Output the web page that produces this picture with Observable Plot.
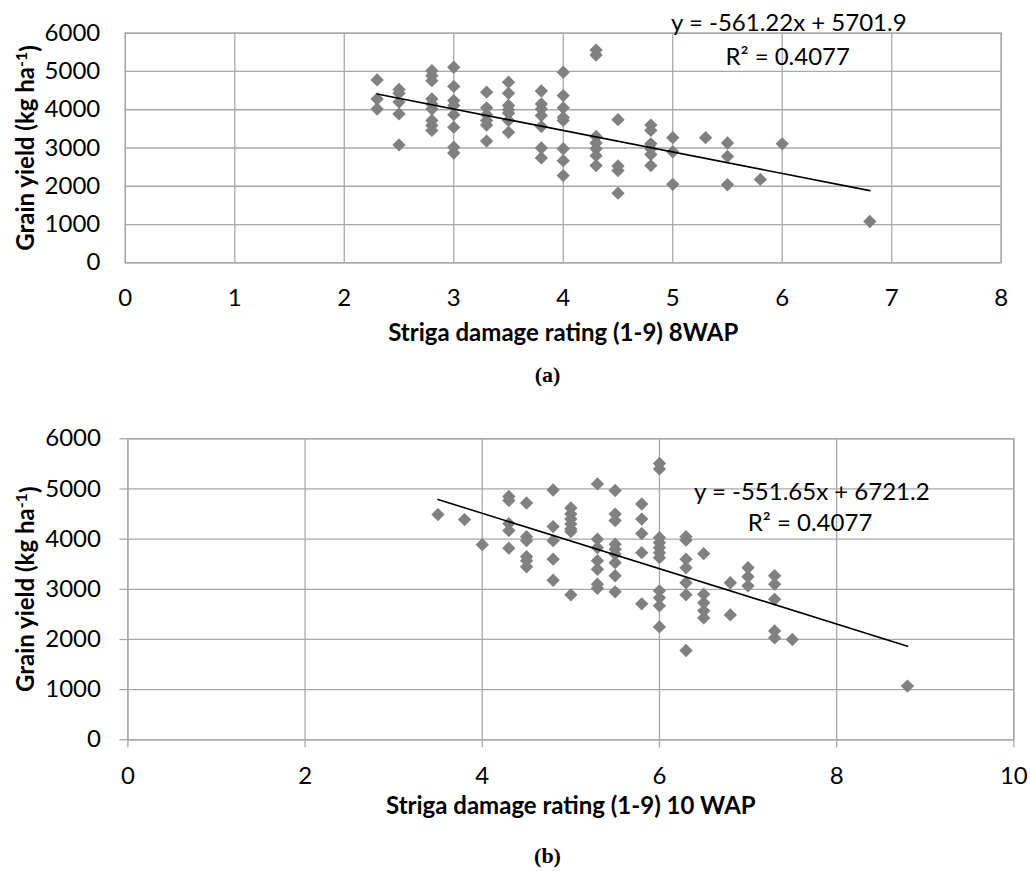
<!DOCTYPE html>
<html><head><meta charset="utf-8">
<script src="https://cdn.jsdelivr.net/npm/d3@7"></script>
<script src="https://cdn.jsdelivr.net/npm/@observablehq/plot@0.6"></script>
<style>
body{margin:0;background:#fff;}
#wrap{position:relative;width:1030px;height:871px;background:#fff;overflow:hidden}
#wrap svg{position:absolute;left:0}
</style></head><body><div id="wrap"></div>
<script>
// ---------- Chart (a): rating 8 WAP vs grain yield ----------
const ratingsA = [2.3, 2.5, 2.8, 3.0, 3.3, 3.5, 3.8, 4.0, 4.3, 4.5, 4.8, 5.0, 5.3, 5.5, 5.8, 6.0, 6.8];
const yieldsA = [
  [4780, 4280, 4020],
  [4530, 4430, 4200, 3890, 3080],
  [5020, 4890, 4760, 4280, 4150, 4020, 3720, 3590, 3460],
  [5110, 4610, 4240, 4110, 3870, 3540, 3020, 2870],
  [4460, 4050, 3870, 3720, 3600, 3180],
  [4720, 4430, 4110, 4000, 3910, 3720, 3410],
  [4490, 4150, 4020, 3850, 3560, 3000, 2740],
  [4980, 4370, 4050, 3800, 3720, 2980, 2670, 2280],
  [5560, 5430, 3300, 3130, 2980, 2800, 2540],
  [3740, 2530, 2410, 1820],
  [3600, 3460, 3110, 2980, 2830, 2540],
  [3270, 2900, 2050],
  [3270],
  [3130, 2780, 2040],
  [2180],
  [3110],
  [1080]
];
const slopeA = -561.22, interceptA = 5701.9;
const eqTextA = ["y = -561.22x + 5701.9", "R² = 0.4077"];
const eqAnchorA = [[6.06, 6250], [6.05, 5370]];
const xTicksA = [0, 1, 2, 3, 4, 5, 6, 7, 8];
const xTitleA = "Striga damage rating (1-9) 8WAP";
const tagA = "(a)";

// ---------- Chart (b): rating 10 WAP vs grain yield ----------
const ratingsB = [3.5, 3.8, 4.0, 4.3, 4.5, 4.8, 5.0, 5.3, 5.5, 5.8, 6.0, 6.3, 6.5, 6.8, 7.0, 7.3, 7.5, 8.8];
const yieldsB = [
  [4490],
  [4390],
  [3890],
  [4850, 4770, 4310, 4170, 3820],
  [4720, 4050, 3970, 3650, 3570, 3450],
  [4980, 4250, 3970, 3600, 3180],
  [4620, 4500, 4400, 4300, 4200, 4150, 2890],
  [5100, 4000, 3830, 3570, 3400, 3100, 3020],
  [4970, 4500, 4370, 3900, 3800, 3700, 3530, 3270, 2950],
  [4700, 4400, 4110, 3730, 2710],
  [5510, 5400, 4030, 3930, 3830, 3730, 3630, 2970, 2830, 2670, 2250],
  [4050, 3980, 3600, 3430, 3130, 2890, 1780],
  [3710, 2900, 2730, 2570, 2430],
  [3130, 2490],
  [3430, 3250, 3070],
  [3270, 3100, 2800, 2170, 2030],
  [2000],
  [1070]
];
const slopeB = -551.65, interceptB = 6721.2;
const eqTextB = ["y = -551.65x + 6721.2", "R² = 0.4077"];
const eqAnchorB = [[7.72, 4930], [7.70, 4310]];
const xTicksB = [0, 2, 4, 6, 8, 10];
const xTitleB = "Striga damage rating (1-9) 10 WAP";
const tagB = "(b)";

const yTicks = [0, 1000, 2000, 3000, 4000, 5000, 6000];
const yTitle = "Grain yield (kg ha-1)";

// ---------- helpers ----------
const GRID = "#a8a8a8";
const MARKER = "#808080";

function flatten(ratings, yields) {
  const out = [];
  ratings.forEach((r, i) => yields[i].forEach(v => out.push({x: r, y: v})));
  return out;
}

function chart(o) {
  const pts = flatten(o.ratings, o.yields);
  const xs = pts.map(d => d.x);
  const x0 = d3.min(xs), x1 = d3.max(xs);
  const trend = [x0, x1].map(x => ({x, y: o.slope * x + o.intercept}));
  const eq = o.eqText.map((t, i) => ({x: o.eqAnchor[i][0], y: o.eqAnchor[i][1], t}));
  const fw = o.width - o.ml - o.mr;
  const fcx = o.ml + fw / 2;
  const svg = Plot.plot({
    width: o.width, height: o.height,
    marginTop: o.mt, marginBottom: o.mb, marginLeft: o.ml, marginRight: o.mr,
    x: {domain: [0, d3.max(o.xTicks)]},
    y: {domain: [0, 6000]},
    style: {fontFamily: "Lato, 'Open Sans', sans-serif", fontSize: "24px", color: "#000", background: "transparent", overflow: "visible"},
    marks: [
      Plot.gridX(o.xTicks, {stroke: GRID, strokeOpacity: 1, strokeWidth: 1.3}),
      Plot.gridY(yTicks, {stroke: GRID, strokeOpacity: 1, strokeWidth: 1.3}),
      Plot.frame({stroke: GRID, strokeWidth: 1.3}),
      Plot.axisX(o.xTicks, {tickSize: o.tick, tickPadding: o.tick ? 19 : 26, stroke: GRID, strokeWidth: 1.3, label: null, tickFormat: d => String(d), fontSize: 24}),
      Plot.axisY(yTicks, {tickSize: o.tick, tickPadding: o.tick ? 19 : 25, stroke: GRID, strokeWidth: 1.3, label: null, tickFormat: d => String(d), fontSize: 24}),
      Plot.dot(pts, {x: "x", y: "y", symbol: "diamond2", r: 6, fill: MARKER, stroke: "none"}),
      Plot.line(trend, {x: "x", y: "y", stroke: "#000", strokeWidth: 1.6}),
      Plot.text(eq, {x: "x", y: "y", text: "t", fontSize: 24, fill: "#000"}),
      Plot.text([o.xTitle], {frameAnchor: "bottom", textAnchor: "middle", dy: o.titleDy, fontSize: 24, fontWeight: "bold", fill: "#000"}),
      Plot.text([o.tag], {frameAnchor: "bottom", textAnchor: "middle", dx: 547 - fcx, dy: o.tagDy, fontSize: 22, fontWeight: "bold", fontFamily: "'Liberation Serif', 'Times New Roman', serif", fill: "#000"}),
      Plot.text([yTitle], {frameAnchor: "left", textAnchor: "middle", dx: 26 - o.ml, rotate: -90, fontSize: 24, fontWeight: "bold", fill: "#000"})
    ]
  });
  // superscript "-1" in the y title
  d3.select(svg).selectAll("text").filter(function() { return this.textContent === yTitle; }).each(function() {
    const t = d3.select(this);
    t.text(null);
    t.append("tspan").text("Grain yield (kg ha");
    t.append("tspan").attr("dy", "-0.45em").attr("font-size", "16px").text("-1");
    t.append("tspan").attr("dy", "0.45em").text(")");
  });
  svg.style.top = o.top + "px";
  return svg;
}

const wrap = document.getElementById("wrap");
wrap.appendChild(chart({
  ratings: ratingsA, yields: yieldsA, slope: slopeA, intercept: interceptA,
  eqText: eqTextA, eqAnchor: eqAnchorA, xTicks: xTicksA, xTitle: xTitleA, tag: tagA,
  width: 1030, height: 400, top: 0, mt: 32.7, mb: 137.7, ml: 124.8, mr: 29.3,
  tick: 0, titleDy: 77.7, tagDy: 118.7
}));
wrap.appendChild(chart({
  ratings: ratingsB, yields: yieldsB, slope: slopeB, intercept: interceptB,
  eqText: eqTextB, eqAnchor: eqAnchorB, xTicks: xTicksB, xTitle: xTitleB, tag: tagB,
  width: 1030, height: 471, top: 400, mt: 38.3, mb: 131.7, ml: 127.4, mr: 16.7,
  tick: 8, titleDy: 73.7, tagDy: 122.7
}));
</script>
</body></html>
